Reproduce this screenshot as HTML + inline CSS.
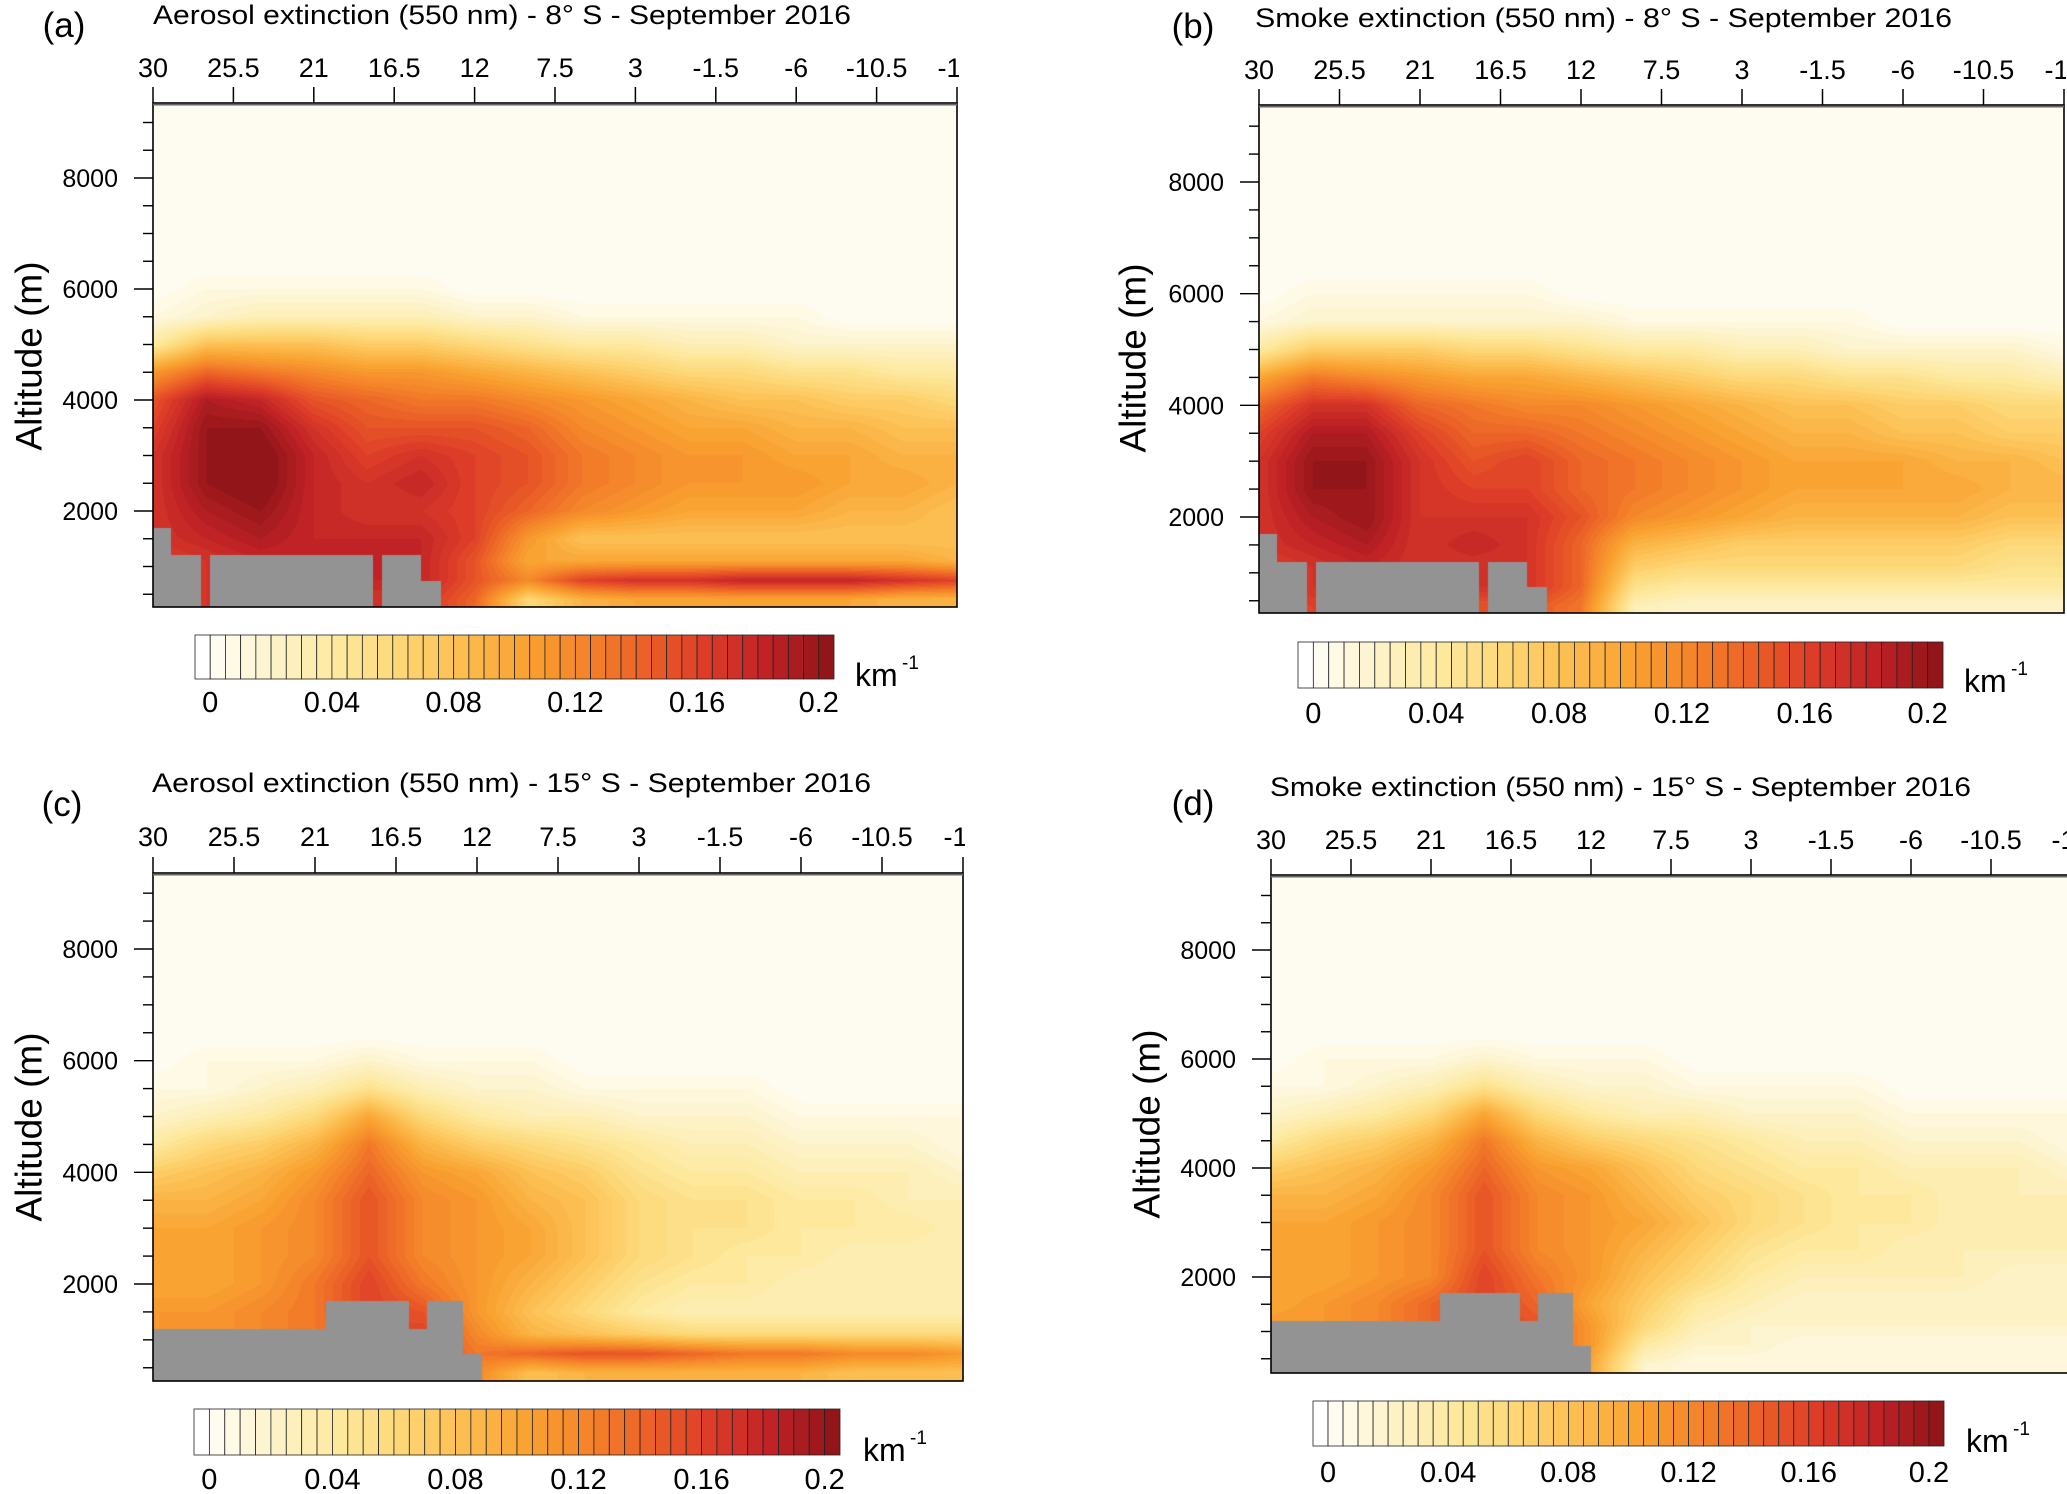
<!DOCTYPE html>
<html><head><meta charset="utf-8">
<style>
html,body{margin:0;padding:0;background:#fff;}
#wrap{position:relative;width:2067px;height:1494px;overflow:hidden;background:#fff;}
canvas{position:absolute;}
svg{position:absolute;left:0;top:0;}
text{font-family:"Liberation Sans",sans-serif;fill:#000;}
</style></head>
<body>
<div id="wrap">
<canvas id="cvA"></canvas>
<canvas id="cvB"></canvas>
<canvas id="cvC"></canvas>
<canvas id="cvD"></canvas>
<svg id="svg" width="2067" height="1494" xmlns="http://www.w3.org/2000/svg"></svg>
</div>
<script>
// ---------- data ----------
const lats = [30,27,24,21,18,15,12,9,6,3,0,-3,-6,-9,-12,-15];
const alts = [400,750,1100,1500,2000,2500,3000,3500,4000,4500,5000,5500,6000,6500,9500];
const xTickLabels = ["30","25.5","21","16.5","12","7.5","3","-1.5","-6","-10.5","-15"];
const yTickLabels = ["2000","4000","6000","8000"];
const cbarLabels = ["0","0.04","0.08","0.12","0.16","0.2"];
const titleA = "Aerosol extinction (550 nm) - 8°  S - September 2016";
const titleB = "Smoke extinction (550 nm) - 8°  S - September 2016";
const titleC = "Aerosol extinction (550 nm) - 15°  S - September 2016";
const titleD = "Smoke extinction (550 nm) - 15°  S - September 2016";
// values in 0.01 km^-1, rows = alts, cols = lats
const valuesA = [
[16,17,18,18,17,17,14,6,9,10,10,10,10,10,9,9],
[16,17,18,18,18,18,15,12,16,17,17,18,18,18,17,16],
[16,17,18,18,18,18,15,10,10,10,10,10,10,10,10,9],
[17,18,19,18,18,18,16,11,8,8,8,8,8,8,8,8],
[17,19,20,18,17,17,16,14,12,11,10,10,10,9,9,8],
[17,20,21,18,17,18,16,15,13,12,11,11,11,10,10,9],
[17,20,21,18,16,17,16,15,13,12,11,11,10,10,9,9],
[16,20,20,17,15,15,15,14,12,11,10,10,9,9,8,8],
[15,19,18,15,14,13,13,12,11,10,9,8,8,7,7,6],
[11,14,13,12,11,11,10,9,8,7,6,6,5,5,4,4],
[4,8,8,8,7,7,6,5,4,4,3,3,2,2,2,2],
[1,2,3,3,3,3,2,2,1,1,1,1,1,0,0,0],
[0,1,1,1,1,1,0,0,0,0,0,0,0,0,0,0],
[0,0,0,0,0,0,0,0,0,0,0,0,0,0,0,0],
[0,0,0,0,0,0,0,0,0,0,0,0,0,0,0,0]];
const valuesB = [
[15,16,17,16,15,15,13,3,2,2,2,2,2,2,2,2],
[16,17,18,17,17,17,14,5,4,4,4,4,4,4,4,4],
[16,17,18,17,17,17,14,7,6,6,6,6,6,6,5,5],
[17,18,19,17,18,17,14,9,8,7,7,7,7,7,6,6],
[17,19,20,17,17,17,15,12,11,10,9,9,9,9,8,8],
[17,20,20,17,16,16,14,13,12,11,10,10,10,10,9,9],
[17,20,20,17,15,16,14,13,12,11,10,10,10,9,9,8],
[16,19,19,16,14,14,13,12,11,10,9,9,8,8,7,7],
[14,17,17,14,13,12,12,11,10,9,8,8,7,7,6,6],
[10,13,12,11,10,10,9,8,7,6,6,5,5,4,4,3],
[4,7,7,7,6,6,5,4,4,3,3,2,2,2,2,1],
[1,2,2,2,2,2,2,1,1,1,1,1,0,0,0,0],
[0,1,1,1,1,1,0,0,0,0,0,0,0,0,0,0],
[0,0,0,0,0,0,0,0,0,0,0,0,0,0,0,0],
[0,0,0,0,0,0,0,0,0,0,0,0,0,0,0,0]];
const valuesC = [
[10,10,11,12,14,15,12,8,9,9,9,9,9,8,8,8],
[11,11,12,13,15,16,13,14,15,15,14,13,13,12,12,11],
[11,11,12,13,15,16,12,9,8,7,6,6,6,6,6,6],
[11,11,12,13,16,15,11,8,6,4,3,3,3,3,3,3],
[10,10,11,13,16,13,11,9,7,5,4,4,3,3,3,3],
[10,10,11,12,15,12,11,10,8,6,5,4,4,3,3,3],
[10,10,11,12,15,12,11,10,8,6,5,5,4,4,4,3],
[9,9,10,12,15,12,11,9,8,6,5,5,4,4,3,3],
[7,8,9,11,14,11,10,8,7,5,4,4,3,3,3,2],
[4,6,7,9,13,9,7,6,5,4,3,3,2,2,2,1],
[2,3,4,6,10,6,4,3,3,2,2,2,1,1,1,1],
[1,1,2,3,5,3,2,2,1,1,1,1,0,0,0,0],
[0,1,1,1,2,1,1,1,0,0,0,0,0,0,0,0],
[0,0,0,0,0,0,0,0,0,0,0,0,0,0,0,0],
[0,0,0,0,0,0,0,0,0,0,0,0,0,0,0,0]];
const valuesD = [
[10,10,11,12,14,14,10,2,1,1,1,1,1,1,1,1],
[11,11,12,14,16,15,11,4,2,2,1,1,1,1,1,1],
[11,11,12,14,16,15,11,6,3,2,2,2,2,2,2,2],
[10,11,12,14,16,14,10,7,4,3,2,2,2,2,2,2],
[10,10,11,12,16,13,11,8,6,4,3,3,3,3,2,2],
[10,10,11,12,15,12,11,9,7,5,4,4,3,3,3,3],
[10,10,11,12,15,12,11,10,8,6,5,4,4,3,3,3],
[9,9,10,12,15,12,11,9,7,6,5,4,4,3,3,3],
[7,8,9,11,14,11,10,8,6,5,4,4,3,3,3,2],
[4,6,7,9,13,9,7,6,5,4,3,3,2,2,2,1],
[2,3,4,6,10,6,4,3,3,2,2,2,1,1,1,1],
[1,1,2,3,5,3,2,2,1,1,1,1,0,0,0,0],
[0,1,1,1,2,1,1,1,0,0,0,0,0,0,0,0],
[0,0,0,0,0,0,0,0,0,0,0,0,0,0,0,0],
[0,0,0,0,0,0,0,0,0,0,0,0,0,0,0,0]];
// terrain steps: [latFrom, latTo, altitude]
const terrainAB = [[30,29,1700],[29,27.3,1200],[26.8,17.7,1200],[17.2,15,1200],[15,13.9,740]];
const terrainCD_C = [[30,20.4,1200],[20.4,15.8,1700],[15.8,14.8,1200],[14.8,12.8,1700],[12.8,11.7,740]];
const terrainCD_D = [[30,20.5,1200],[20.5,16,1700],[16,15,1200],[15,13,1700],[13,12,740]];

// ---------- layout ----------
const panels = [
 {id:"a",cv:"cvA",vals:valuesA,terr:terrainAB,title:titleA,L:153,R:957,T:103,B:607,y2k:511,y8k:178,
  titleX:153,titleY:14,titleW:698,labX:64,labY:25,altX:16,altY:356,tickY:67,
  cb:{x0:195,x1:834,y0:635,y1:679,ly:702,kx:855,ky:686}},
 {id:"b",cv:"cvB",vals:valuesB,terr:terrainAB,title:titleB,L:1259,R:2064,T:105,B:613,y2k:517,y8k:182,
  titleX:1255,titleY:17,titleW:697,labX:1193,labY:26,altX:1120,altY:358,tickY:69,
  cb:{x0:1298,x1:1943,y0:642,y1:688,ly:713,kx:1964,ky:692}},
 {id:"c",cv:"cvC",vals:valuesC,terr:terrainCD_C,title:titleC,L:153,R:963,T:873,B:1381,y2k:1284,y8k:949,
  titleX:152,titleY:782,titleW:719,labX:62,labY:804,altX:16,altY:1127,tickY:836,
  cb:{x0:194,x1:840,y0:1409,y1:1455,ly:1479,kx:863,ky:1461}},
 {id:"d",cv:"cvD",vals:valuesD,terr:terrainCD_D,title:titleD,L:1271,R:2071,T:875,B:1373,y2k:1277,y8k:950,
  titleX:1270,titleY:786,titleW:701,labX:1193,labY:803,altX:1134,altY:1124,tickY:839,
  cb:{x0:1313,x1:1944,y0:1401,y1:1446,ly:1472,kx:1966,ky:1452}}
];

// ---------- colormap ----------
const stops = ["#fefcf1","#fdf2c6","#fde89c","#fdd675","#fcbe50","#f9a332","#f5852a","#ec6127","#dd3d28","#c02226","#921519"];
function hex(c){return [parseInt(c.slice(1,3),16),parseInt(c.slice(3,5),16),parseInt(c.slice(5,7),16)];}
function levelColor(k){
  if(k<=0) return [255,255,255];
  const t=Math.min(1,(k-1)/40)*(stops.length-1);
  const i=Math.min(stops.length-2,Math.floor(t)), f=t-i;
  const a=hex(stops[i]), b=hex(stops[i+1]);
  return [0,1,2].map(j=>Math.round(a[j]+(b[j]-a[j])*f));
}
function rgb(c){return "rgb("+c.join(",")+")";}

function sample(vals,lat,alt){
  let fi;
  if(lat>=lats[0]) fi=0; else if(lat<=lats[lats.length-1]) fi=lats.length-1;
  else { for(let i=0;i<lats.length-1;i++){ if(lat<=lats[i]&&lat>=lats[i+1]){fi=i+(lats[i]-lat)/(lats[i]-lats[i+1]);break;} } }
  let fj;
  if(alt<=alts[0]) fj=0; else if(alt>=alts[alts.length-1]) fj=alts.length-1;
  else { for(let j=0;j<alts.length-1;j++){ if(alt>=alts[j]&&alt<=alts[j+1]){fj=j+(alt-alts[j])/(alts[j+1]-alts[j]);break;} } }
  const i0=Math.floor(fi), j0=Math.floor(fj), i1=Math.min(i0+1,lats.length-1), j1=Math.min(j0+1,alts.length-1);
  const fx=fi-i0, fy=fj-j0;
  const v00=vals[j0][i0], v10=vals[j0][i1], v01=vals[j1][i0], v11=vals[j1][i1];
  return (v00*(1-fx)+v10*fx)*(1-fy)+(v01*(1-fx)+v11*fx)*fy;
}

const svg=document.getElementById("svg");
const NS="http://www.w3.org/2000/svg";
function mk(tag,attrs,parent){const e=document.createElementNS(NS,tag);for(const k in attrs)e.setAttribute(k,attrs[k]);(parent||svg).appendChild(e);return e;}

panels.forEach(p=>{
  const W=p.R-p.L, H=p.B-p.T;
  const pxPerDeg=W/45;
  const mPerPx=6000/(p.y2k-p.y8k);
  const xOf=lat=>p.L+(30-lat)*pxPerDeg;
  const yOf=alt=>p.y2k-(alt-2000)/mPerPx;
  const cv=document.getElementById(p.cv);
  cv.width=W; cv.height=H; cv.style.left=p.L+"px"; cv.style.top=p.T+"px";
  const ctx=cv.getContext("2d"); const img=ctx.createImageData(W,H);
  const terrAt=lat=>{for(const s of p.terr){if(lat<=s[0]&&lat>s[1])return s[2];}return 0;};
  for(let y=0;y<H;y++){
    const alt=2000+(p.y2k-(p.T+y+0.5))*mPerPx;
    for(let x=0;x<W;x++){
      const lat=30-(x+0.5)/pxPerDeg;
      let c;
      if(alt<terrAt(lat)) c=[147,147,147];
      else { const v=sample(p.vals,lat,alt); const k=Math.max(1,Math.min(41,Math.floor(v/0.5)+1)); c=levelColor(k); }
      const o=(y*W+x)*4; img.data[o]=c[0];img.data[o+1]=c[1];img.data[o+2]=c[2];img.data[o+3]=255;
    }
  }
  ctx.putImageData(img,0,0);

  const g=mk("g",{});
  
  
  const fr=mk("rect",{x:p.L,y:p.T,width:W,height:H,fill:"none",stroke:"#000","stroke-width":1.6},g);
  
  
  mk("line",{x1:p.L,x2:p.R,y1:p.T+1.5,y2:p.T+1.5,stroke:"#666","stroke-width":2},g);
  const t=mk("text",{x:p.titleX,y:p.titleY+10,"font-size":27,textLength:p.titleW,lengthAdjust:"spacingAndGlyphs"},g);
  t.textContent=p.title;
  
  
  const lb=mk("text",{x:p.labX,y:p.labY+12,"font-size":35,"text-anchor":"middle"},g);
  lb.textContent="("+p.id+")";
  
  
  const at=mk("text",{x:p.altX+13,y:p.altY,"font-size":37,"text-anchor":"middle","dominant-baseline":"central",transform:"rotate(-90 "+(p.altX+13)+" "+p.altY+")"},g);
  at.textContent="Altitude (m)";
  
  
  const clipId="clip"+p.id;
  const cp=mk("clipPath",{id:clipId},g);
  mk("rect",{x:p.L-40,y:p.T-60,width:W+42,height:60},cp);
  const tg=mk("g",{"clip-path":"url(#"+clipId+")"},g);
  xTickLabels.forEach((s,i)=>{
    const lat=parseFloat(s), x=xOf(lat);
    mk("line",{x1:x,x2:x,y1:p.T,y2:p.T-16,stroke:"#000","stroke-width":1.5},tg);
    const tx=mk("text",{x:x,y:p.tickY+10,"font-size":27,"text-anchor":"middle"},tg);
    tx.textContent=s;
    
    
  });
  for(let a=500;a<=9000;a+=500){
    const y=yOf(a); if(y<p.T||y>p.B) continue;
    const major=a%2000===0;
    mk("line",{x1:p.L,x2:p.L-(major?19:10),y1:y,y2:y,stroke:"#000","stroke-width":1.4},g);
  }
  yTickLabels.forEach(s=>{
    const y=yOf(parseFloat(s));
    const tx=mk("text",{x:p.L-35,y:y+9,"font-size":25,"text-anchor":"end"},g);
    tx.textContent=s;
    
    
  });
  const cb=p.cb, bw=(cb.x1-cb.x0)/42;
  const cg=mk("g",{},g);
  
  
  for(let k=0;k<42;k++){
    const r=mk("rect",{x:cb.x0+k*bw,y:cb.y0,width:bw,height:cb.y1-cb.y0,fill:rgb(levelColor(k)),stroke:"#222","stroke-width":0.8},cg);
    
    
  }
  cbarLabels.forEach(s=>{
    const v=parseFloat(s), x=cb.x0+(1+v/0.005)*bw;
    const tx=mk("text",{x:x,y:cb.ly+10,"font-size":29,"text-anchor":"middle"},cg);
    tx.textContent=s;
    
    
  });
  const km=mk("text",{x:cb.kx,y:cb.ky,"font-size":32},cg);
  km.textContent="km";
  
  
  const sup=mk("text",{x:cb.kx+47,y:cb.ky-17,"font-size":19},cg);
  sup.textContent="-1";
  
  
});
</script>
</body></html>
